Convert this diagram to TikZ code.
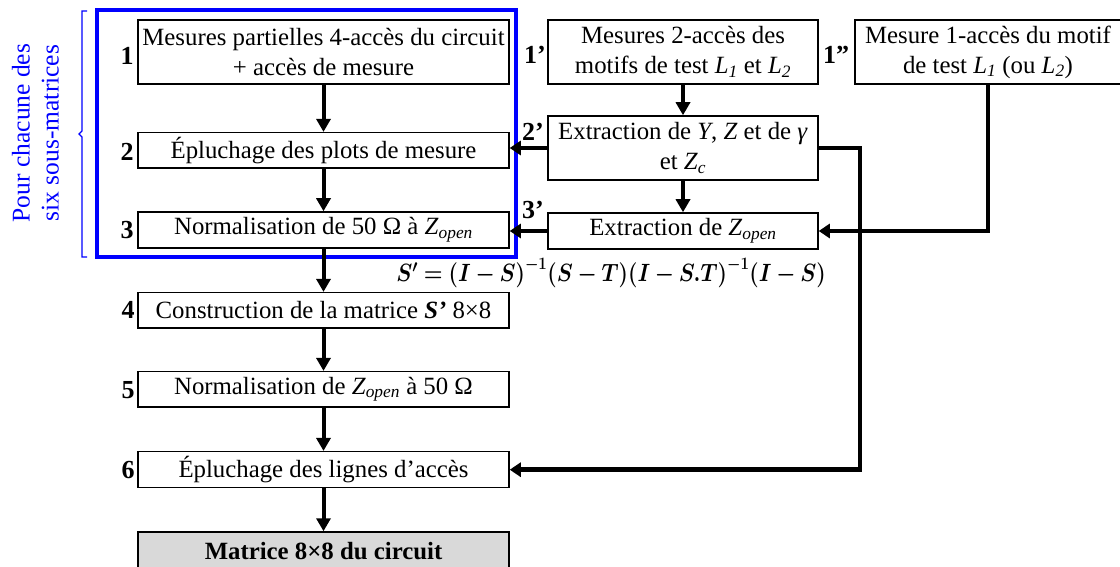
\RequirePackage{fix-cm}
\documentclass[tikz,border=0pt]{standalone}
\usepackage{fontspec}
\setmainfont{Liberation Serif}
\usepackage{amsmath,bm,graphicx}
\usetikzlibrary{arrows.meta}
\definecolor{pblue}{RGB}{0,0,255}
\definecolor{fgray}{RGB}{217,217,217}
\newcommand{\Zo}{\textit{Z}\textsubscript{\textit{open}}}
\newcommand{\Lsub}[1]{\textit{L}\textsubscript{\textit{#1}}}
\begin{document}
\begin{tikzpicture}[x=1pt,y=-1pt,
  box/.style={draw=black,line width=1.5pt,inner sep=0pt,align=center,
    font=\fontsize{24.8}{30}\selectfont},
  lbl/.style={font=\fontsize{26}{30}\selectfont\bfseries,inner sep=0pt},
  arr/.style={line width=4pt,-{Triangle[length=13pt,width=14pt]}},
  sarr/.style={line width=4.5pt,-{Triangle[length=11pt,width=14pt]}}
]
\useasboundingbox (0,0) rectangle (1120,567);
% blue group
\node[draw=pblue,line width=4pt,minimum width=419pt,minimum height=247pt,inner sep=0pt] (grp) at (306.5,133.5) {};
\node[text=pblue,rotate=90,align=center,font=\fontsize{25.5}{29}\selectfont] (grptxt) at (35.5,133) {Pour chacune des\\six sous-matrices};
\draw[pblue,line width=1.3pt] (87,11) -- (82,11) -- (82,131) -- (79,134) -- (82,137) -- (82,257) -- (87,257);
% left column
\node[box,minimum width=371pt,minimum height=64pt] (b1) at (323.5,52) {Mesures partielles 4-accès du circuit\\+ accès de mesure};
\node[box,minimum width=371pt,minimum height=35.3pt] (b2) at (323.5,150.3) {Épluchage des plots de mesure};
\node[box,minimum width=371pt,minimum height=36pt] (b3) at (323.5,230) {Normalisation de 50 Ω à \Zo};
\node[box,minimum width=371pt,minimum height=35.3pt] (b4) at (323.5,310.3) {Construction de la matrice \textbf{\textit{S’}} 8×8};
\node[box,minimum width=371pt,minimum height=35.3pt] (b5) at (323.5,389.3) {Normalisation de \Zo\ à 50 Ω};
\node[box,minimum width=371pt,minimum height=36pt] (b6) at (323.5,469.7) {Épluchage des lignes d’accès};
\node[box,fill=fgray,minimum width=371pt,minimum height=38pt] (b7) at (323.5,551) {\textbf{Matrice 8×8 du circuit}};
% right columns
\node[box,minimum width=270pt,minimum height=64pt] (b1p) at (683,52) {Mesures 2-accès des\\motifs de test \Lsub{1} et \Lsub{2}};
\node[box,minimum width=266pt,minimum height=64pt] (b1pp) at (988,52) {Mesure 1-accès du motif\\de test \Lsub{1} (ou \Lsub{2})};
\node[box,minimum width=270pt,minimum height=64pt] (b2p) at (683,148) {Extraction de \textit{Y}, \textit{Z} et de \textit{γ}\\et \textit{Z}\textsubscript{\textit{c}}};
\node[box,minimum width=270pt,minimum height=36pt] (b3p) at (683,231) {Extraction de \Zo};
% labels
\node[lbl] (l1) at (127,56) {1};
\node[lbl] (l2) at (127,152) {2};
\node[lbl] (l3) at (127,230) {3};
\node[lbl] (l4) at (128,310) {4};
\node[lbl] (l5) at (128,390) {5};
\node[lbl] (l6) at (128,470) {6};
\node[lbl] (l1p) at (535,55) {1’};
\node[lbl] (l1pp) at (836,55) {1”};
\node[lbl] (l2p) at (533,132) {2’};
\node[lbl] (l3p) at (533,210) {3’};
% formula
\node[font=\fontsize{25}{29}\selectfont,inner sep=0pt] (eq) at (611,273) {\scalebox{0.86}[1]{$\boldsymbol{S' = (I - S)^{-1}(S - T)(I - S.T)^{-1}(I - S)}$}};
% arrows
\draw[arr] (b1.south) -- (b2.north);
\draw[arr] (b2.south) -- (b3.north);
\draw[arr] (b3.south) -- (b4.north);
\draw[arr] (b4.south) -- (b5.north);
\draw[arr] (b5.south) -- (b6.north);
\draw[arr] (b6.south) -- (b7.north);
\draw[arr] (b1p.south) -- (b2p.north);
\draw[arr] (b2p.south) -- (b3p.north);
\draw[sarr] (b2p.west) -- (b2p.west -| b2.east);
\draw[sarr] (b3p.west) -- (b3p.west -| b3.east);
\coordinate (rx) at (860,148);
\draw[sarr] (b2p.east) -- (rx) |- (b6.east);
\draw[sarr] (b1pp.south) |- (b3p.east);
\end{tikzpicture}
\end{document}
